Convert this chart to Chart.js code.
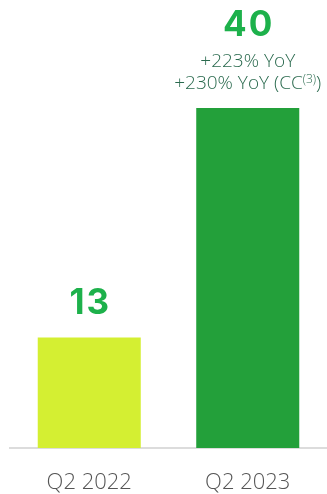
<!DOCTYPE html>
<html>
<head>
<meta charset="utf-8">
<script src="https://cdn.jsdelivr.net/npm/chart.js@4"></script>
<style>
    html, body { margin: 0; padding: 0; background: #fff; }
    #wrapper { width: 327px; height: 494px; }
</style>
</head>
<body>
<div id="wrapper"><canvas id="chart" width="327" height="494"></canvas></div>
<script>
// Data
const categories = ['Q2 2022', 'Q2 2023'];
const values = [13, 40];
const barColors = ['#d4ef32', '#23a03a'];
const notes = [[], ['+223% YoY', '+230% YoY (CC|(3)|)']];

const valueLabels = {
    id: 'valueLabels',
    afterDatasetsDraw: function(chart) {
        let ctx = chart.ctx;
        let meta = chart.getDatasetMeta(0);
        ctx.save();
        ctx.textBaseline = 'alphabetic';
        for (let i = 0; i < meta.data.length; i++) {
            let bar = meta.data[i];
            let lines = notes[i];
            // notes sit between the value and the bar
            let y = bar.y - 19;
            for (let k = lines.length - 1; k >= 0; k--) {
                drawNote(ctx, lines[k], bar.x, y);
                y -= 22;
            }
            y = lines.length ? y + 22 - 31 : bar.y - 24;
            ctx.fillStyle = '#1db14b';
            ctx.font = 'bold 35px Inter';
            ctx.letterSpacing = '2px';
            ctx.textAlign = 'center';
            ctx.fillText(values[i], bar.x + 1, y);
            ctx.letterSpacing = '0px';
        }
        ctx.restore();
    }
};

function drawNote(ctx, text, cx, y) {
    // parts split by '|', middle part is superscript
    let parts = text.split('|');
    let big = '300 19px "Open Sans"';
    let small = '300 12px "Open Sans"';
    let widths = parts.map((p, j) => {
        ctx.font = j === 1 ? small : big;
        return ctx.measureText(p).width;
    });
    let total = widths.reduce((a, b) => a + b, 0);
    let x = cx - total / 2;
    ctx.fillStyle = '#2a6a4e';
    ctx.textAlign = 'left';
    for (let j = 0; j < parts.length; j++) {
        ctx.font = j === 1 ? small : big;
        ctx.fillText(parts[j], x, j === 1 ? y - 6 : y);
        x += widths[j];
    }
}

let ctx = document.getElementById('chart').getContext('2d');
new Chart(ctx, {
    type: 'bar',
    data: {
        labels: categories,
        datasets: [{
            data: values,
            backgroundColor: barColors,
            barPercentage: 0.65,
            categoryPercentage: 1.0
        }]
    },
    options: {
        responsive: false,
        animation: false,
        layout: { padding: { left: 10, right: 0, top: 6, bottom: 0 } },
        plugins: { legend: { display: false }, tooltip: { enabled: false } },
        scales: {
            x: {
                grid: { display: false, drawTicks: false },
                border: { display: true, color: '#dcdcdc', width: 2 },
                ticks: { color: '#555', font: { family: 'Open Sans', size: 22, weight: 300 }, padding: 22 },
                afterFit: function(scale) { scale.height = 46; }
            },
            y: {
                display: false,
                min: 0,
                max: 52
            }
        }
    },
    plugins: [valueLabels]
});
</script>
</body>
</html>
